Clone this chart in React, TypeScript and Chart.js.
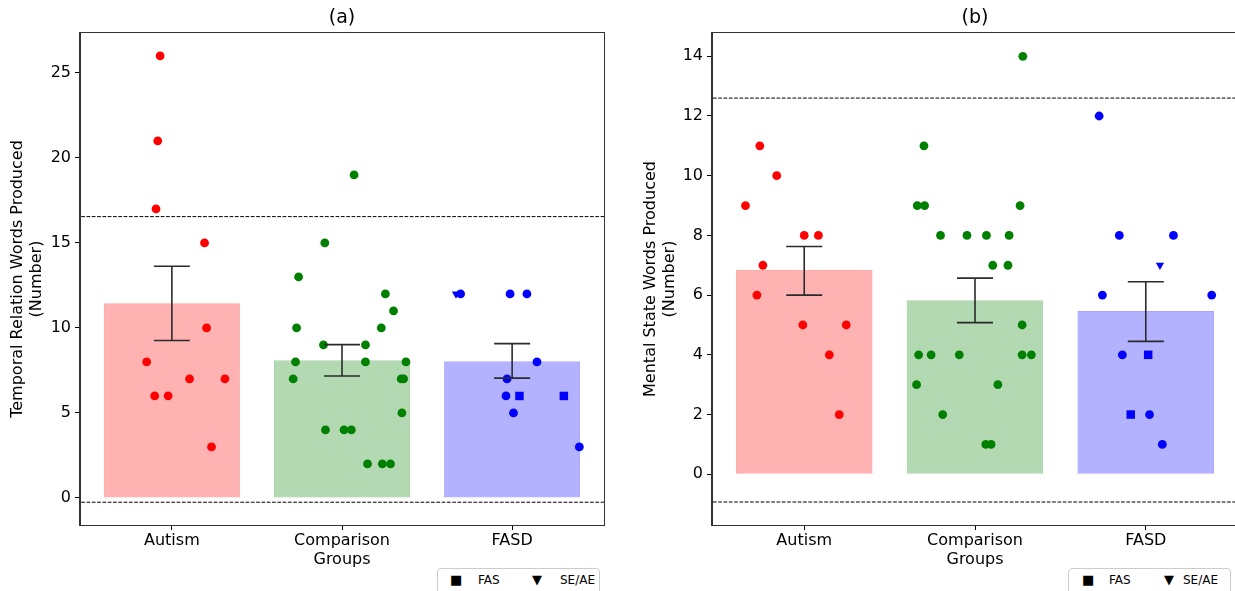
import React, { useEffect, useRef } from 'react';
import { Chart, registerables } from 'chart.js';

Chart.register(...registerables);

const FONT = "'DejaVu Sans', Arial, sans-serif";

// ---------- shared ----------
const categoryLabels = ['Autism', 'Comparison\nGroups', 'FASD'];
const legendLabels = ['FAS', 'SE/AE'];
const legendMarkers = ['\u25A0', '\u25BC'];

// ---------- panel (a) ----------
const titleA = '(a)';
const yTitleA = ['Temporal Relation Words Produced', '(Number)'];
const yTicksA = [0, 5, 10, 15, 20, 25];
const yMinA = -1.59;
const yMaxA = 27.35;
const meansA = [11.45, 8.1, 8.04];
const errLowA = [9.26, 7.17, 7.05];
const errHighA = [13.63, 9.02, 9.08];
const refLinesA = [16.55, -0.25];
const autismA = [26, 21, 17, 15, 10, 8, 7, 7, 6, 6, 3];
const autismJitA = [-0.069, -0.083, -0.093, 0.192, 0.204, -0.148, 0.104, 0.312, -0.101, -0.022, 0.233];
const compA = [19, 15, 13, 12, 11, 10, 10, 9, 9, 8, 8, 8, 7, 7, 7, 5, 4, 4, 4, 2, 2, 2];
const compJitA = [0.071, -0.101, -0.255, 0.255, 0.303, -0.267, 0.231, -0.109, 0.138, -0.273, 0.138, 0.376, -0.287, 0.348, 0.362, 0.352, -0.097, 0.012, 0.055, 0.15, 0.237, 0.285];
const fasdA = [12, 12, 12, 8, 7, 6, 5, 3];
const fasdJitA = [-0.303, -0.012, 0.087, 0.146, -0.03, -0.036, 0.008, 0.395];
const fasdFasA = [6, 6];
const fasdFasJitA = [0.043, 0.304];
const fasdSeA = [12];
const fasdSeJitA = [-0.33];

// ---------- panel (b) ----------
const titleB = '(b)';
const yTitleB = ['Mental State Words Produced', '(Number)'];
const yTicksB = [0, 2, 4, 6, 8, 10, 12, 14];
const yMinB = -1.7;
const yMaxB = 14.78;
const meansB = [6.85, 5.83, 5.47];
const errLowB = [6.0, 5.08, 4.45];
const errHighB = [7.63, 6.57, 6.45];
const refLinesB = [12.6, -0.93];
const autismB = [11, 10, 9, 8, 8, 7, 6, 5, 5, 4, 2];
const autismJitB = [-0.26, -0.161, -0.344, 0, 0.083, -0.242, -0.277, -0.008, 0.246, 0.147, 0.205];
const compB = [14, 11, 9, 9, 9, 8, 8, 8, 8, 7, 7, 5, 4, 4, 4, 4, 4, 3, 3, 2, 1, 1];
const compJitB = [0.28, -0.299, -0.338, -0.295, 0.264, -0.202, -0.047, 0.067, 0.2, 0.104, 0.193, 0.276, -0.33, -0.257, -0.092, 0.276, 0.33, -0.342, 0.134, -0.189, 0.063, 0.094];
const fasdB = [12, 8, 8, 6, 6, 4, 2, 1];
const fasdJitB = [-0.273, -0.155, 0.162, -0.254, 0.386, -0.137, 0.022, 0.097];
const fasdFasB = [4, 2];
const fasdFasJitB = [0.014, -0.088];
const fasdSeB = [7];
const fasdSeJitB = [0.083];

const pointColors = ['#ff0000', '#008000', '#0000ff'];
const barFills = ['rgba(255,0,0,0.3)', 'rgba(0,128,0,0.3)', 'rgba(0,0,255,0.3)'];
const barEdges = ['rgba(255,0,0,0.35)', 'rgba(0,128,0,0.35)', 'rgba(0,0,255,0.35)'];

type Panel = {
  title: string;
  yTitle: string[];
  yTicks: number[];
  yMin: number;
  yMax: number;
  means: number[];
  low: number[];
  high: number[];
  refs: number[];
  groups: { vals: number[]; jit: number[]; cat: number; style: string; radius: number; rot: number }[];
};

const panelA: Panel = {
  title: titleA, yTitle: yTitleA, yTicks: yTicksA, yMin: yMinA, yMax: yMaxA,
  means: meansA, low: errLowA, high: errHighA, refs: refLinesA,
  groups: [
    { vals: autismA, jit: autismJitA, cat: 0, style: 'circle', radius: 4.4, rot: 0 },
    { vals: compA, jit: compJitA, cat: 1, style: 'circle', radius: 4.4, rot: 0 },
    { vals: fasdA, jit: fasdJitA, cat: 2, style: 'circle', radius: 4.4, rot: 0 },
    { vals: fasdFasA, jit: fasdFasJitA, cat: 2, style: 'rect', radius: 6, rot: 0 },
    { vals: fasdSeA, jit: fasdSeJitA, cat: 2, style: 'triangle', radius: 4.8, rot: 180 },
  ],
};

const panelB: Panel = {
  title: titleB, yTitle: yTitleB, yTicks: yTicksB, yMin: yMinB, yMax: yMaxB,
  means: meansB, low: errLowB, high: errHighB, refs: refLinesB,
  groups: [
    { vals: autismB, jit: autismJitB, cat: 0, style: 'circle', radius: 4.4, rot: 0 },
    { vals: compB, jit: compJitB, cat: 1, style: 'circle', radius: 4.4, rot: 0 },
    { vals: fasdB, jit: fasdJitB, cat: 2, style: 'circle', radius: 4.4, rot: 0 },
    { vals: fasdFasB, jit: fasdFasJitB, cat: 2, style: 'rect', radius: 6, rot: 0 },
    { vals: fasdSeB, jit: fasdSeJitB, cat: 2, style: 'triangle', radius: 4.8, rot: 180 },
  ],
};

function errorBarPlugin(low: number[], high: number[]) {
  return {
    id: 'errbars',
    afterDatasetsDraw(chart: any) {
      const { ctx } = chart;
      const x = chart.scales.x;
      const y = chart.scales.y;
      ctx.save();
      ctx.strokeStyle = '#2b2b2b';
      ctx.lineWidth = 1.6;
      const cap = 18;
      low.forEach((lo, i) => {
        const px = x.getPixelForValue(i);
        const y1 = y.getPixelForValue(lo);
        const y2 = y.getPixelForValue(high[i]);
        ctx.beginPath();
        ctx.moveTo(px, y1);
        ctx.lineTo(px, y2);
        ctx.moveTo(px - cap, y1);
        ctx.lineTo(px + cap, y1);
        ctx.moveTo(px - cap, y2);
        ctx.lineTo(px + cap, y2);
        ctx.stroke();
      });
      ctx.restore();
    },
  };
}

const framePlugin = {
  id: 'frame',
  afterDraw(chart: any) {
    const { ctx, chartArea } = chart;
    ctx.save();
    ctx.strokeStyle = '#333';
    ctx.lineWidth = 1;
    const l = Math.round(chartArea.left) - 0.5;
    const t = Math.round(chartArea.top) - 0.5;
    const r = Math.round(chartArea.right) + 0.5;
    const b = Math.round(chartArea.bottom) + 0.5;
    ctx.strokeRect(l, t, r - l, b - t);
    ctx.restore();
  },
};

function makeConfig(p: Panel, axisWidth: number, titlePad: number, rightPad: number): any {
  const catIdx = categoryLabels.map((_, i) => i);
  const datasets: any[] = [
    {
      type: 'bar',
      data: p.means.map((m, i) => ({ x: i, y: m })),
      backgroundColor: barFills,
      borderColor: barEdges,
      borderWidth: 1,
      borderSkipped: false,
      barPercentage: 0.8,
      categoryPercentage: 1,
      order: 10,
    },
    ...p.refs.map((v) => ({
      type: 'line',
      data: [{ x: -1, y: v }, { x: 3, y: v }],
      borderColor: '#000',
      borderWidth: 1,
      borderDash: [3.7, 1.6],
      pointRadius: 0,
      fill: false,
      order: 5,
    })),
    ...p.groups.map((g, k) => ({
      type: 'scatter',
      data: g.vals.map((v, i) => ({ x: g.cat + g.jit[i], y: v })),
      pointStyle: g.style,
      pointRotation: g.rot,
      pointRadius: g.radius,
      pointBackgroundColor: pointColors[g.cat],
      pointBorderColor: pointColors[g.cat],
      pointBorderWidth: 0,
      order: 4 - k * 0.1,
    })),
  ];
  return {
    type: 'bar',
    data: { datasets },
    options: {
      responsive: false,
      animation: false,
      layout: { padding: { left: 0, right: rightPad, top: 0, bottom: 0 } },
      plugins: {
        legend: { display: false },
        tooltip: { enabled: false },
        title: {
          display: true,
          text: p.title,
          fullSize: false,
          color: '#000',
          font: { size: 19, family: FONT, weight: 'normal', lineHeight: 1.2 },
          padding: { top: 6.6, bottom: 3.6 },
        },
      },
      scales: {
        x: {
          type: 'linear',
          min: -0.54,
          max: 2.54,
          offset: false,
          grid: { display: true, drawOnChartArea: false, drawTicks: true, tickLength: 5, color: '#000', offset: false },
          border: { display: true, color: '#333' },
          ticks: {
            autoSkip: false,
            maxRotation: 0,
            minRotation: 0,
            color: '#000',
            padding: 2,
            font: { size: 16, family: FONT, lineHeight: 1.15 },
            callback: (v: number) => (categoryLabels[v] ? categoryLabels[v].split('\n') : ''),
          },
          afterBuildTicks: (s: any) => {
            s.ticks = catIdx.map((v) => ({ value: v }));
          },
          afterFit: (s: any) => {
            s.height = 66;
          },
        },
        y: {
          type: 'linear',
          min: p.yMin,
          max: p.yMax,
          grid: { display: true, drawOnChartArea: false, drawTicks: true, tickLength: 5, color: '#000' },
          border: { display: true, color: '#333' },
          ticks: {
            color: '#000',
            padding: 4,
            font: { size: 16, family: FONT },
            callback: (v: number) => String(v),
          },
          afterBuildTicks: (s: any) => {
            s.ticks = p.yTicks.map((v) => ({ value: v }));
          },
          afterFit: (s: any) => {
            s.width = axisWidth;
          },
          title: {
            display: true,
            text: p.yTitle,
            color: '#000',
            font: { size: 16, family: FONT, lineHeight: 1.15 },
            padding: { top: titlePad, bottom: 0 },
          },
        },
      },
    },
    plugins: [errorBarPlugin(p.low, p.high), framePlugin],
  };
}

function ChartPanel(props: { panel: Panel; left: number; width: number; axisWidth: number; titlePad: number; rightPad: number }) {
  const ref = useRef<HTMLCanvasElement>(null);
  useEffect(() => {
    if (!ref.current) return;
    const chart = new Chart(ref.current, makeConfig(props.panel, props.axisWidth, props.titlePad, props.rightPad));
    return () => chart.destroy();
  }, []);
  return (
    <div style={{ position: 'absolute', left: props.left, top: 0, width: props.width, height: 591 }}>
      <canvas ref={ref} width={props.width} height={591} style={{ display: 'block' }} />
    </div>
  );
}

function MarkerLegend(props: { left: number; markerX: number[]; labelX: number[] }) {
  return (
    <div
      style={{
        position: 'absolute',
        left: props.left,
        top: 568,
        width: 163,
        height: 40,
        border: '1px solid #cccccc',
        borderRadius: 4,
        boxSizing: 'border-box',
        background: '#fff',
        fontFamily: FONT,
        fontSize: 12,
        color: '#000',
      }}
    >
      {legendLabels.map((lab, i) => (
        <React.Fragment key={lab}>
          <span style={{ position: 'absolute', left: props.markerX[i], top: 3, fontSize: 13, lineHeight: '16px' }}>{legendMarkers[i]}</span>
          <span style={{ position: 'absolute', left: props.labelX[i], top: 3, lineHeight: '16px' }}>{lab}</span>
        </React.Fragment>
      ))}
    </div>
  );
}

export default function App() {
  Chart.defaults.font.family = FONT;
  return (
    <div style={{ position: 'absolute', left: 0, top: 0, width: 1235, height: 591, background: '#fff', overflow: 'hidden' }}>
      <ChartPanel panel={panelA} left={0} width={610} axisWidth={80} titlePad={9} rightPad={3} />
      <ChartPanel panel={panelB} left={620} width={624} axisWidth={92} titlePad={22} rightPad={3} />
      <MarkerLegend left={437} markerX={[12, 94]} labelX={[40, 122]} />
      <MarkerLegend left={1068} markerX={[13, 95]} labelX={[40, 114]} />
    </div>
  );
}
